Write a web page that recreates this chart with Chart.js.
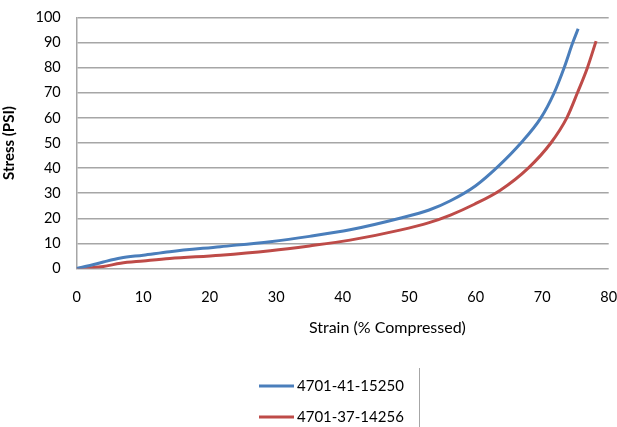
<!DOCTYPE html>
<html>
<head>
<meta charset="utf-8">
<script src="https://cdn.jsdelivr.net/npm/chart.js@4.4.1/dist/chart.umd.min.js"></script>
<style>
  html, body { margin: 0; padding: 0; background: #fff; }
  #wrap { width: 617px; height: 427px; }
</style>
</head>
<body>
<div id="wrap"><canvas id="stressChart"></canvas></div>
<script>
// values
const seriesNames = ['4701-41-15250', '4701-37-14256'];
const strainA = [0, 2, 4, 6.6, 10, 14, 21.6, 29.1, 35, 41.1, 48.6, 53, 56.2, 60, 63.5, 66.8, 69.8, 71.8, 73.3, 74.6, 75.4];
const stressA = [0, 1.2, 2.6, 4.2, 5.3, 6.7, 8.7, 10.7, 12.8, 15.4, 20, 23.3, 27, 33, 41, 50, 60, 70, 80, 90, 95.5];
const strainB = [0, 2, 4, 6.6, 10, 14, 21.6, 29.1, 35, 41.1, 48.6, 53, 56.2, 59.8, 63.7, 67.9, 71.3, 73.7, 75.3, 76.8, 78.1];
const stressB = [0, 0.3, 0.8, 2.1, 3.0, 4.0, 5.3, 7.1, 9.0, 11.3, 15.3, 18.3, 21.3, 25.6, 31.2, 40, 50, 60, 70, 80, 90.6];
const xTicks = [0, 10, 20, 30, 40, 50, 60, 70, 80];
const yTicks = [0, 10, 20, 30, 40, 50, 60, 70, 80, 90, 100];
const colors = ['#4a7ebb', '#be4b48'];

const FONT = 'Lato, "Open Sans", sans-serif';
const gridGrey = '#a6a6a6';

function toPoints(xs, ys) {
    return xs.map((x, i) => ({ x: x, y: ys[i] }));
}

// excel-ish bits: x axis title a bit right of centre, stacked legend with a border line
const extras = {
    id: 'extras',
    afterDraw(chart) {
        const ctx = chart.ctx;
        const area = chart.chartArea;
        ctx.save();
        ctx.fillStyle = '#000';
        ctx.font = '16px ' + FONT;
        ctx.textAlign = 'center';
        ctx.textBaseline = 'middle';
        ctx.fillText('Strain (% Compressed)', area.left + (area.right - area.left) * 0.584, 328);

        ctx.textAlign = 'left';
        ctx.font = '15px ' + FONT;
        chart.data.datasets.forEach((ds, i) => {
            const y = 386 + i * 31;
            ctx.strokeStyle = ds.borderColor;
            ctx.lineWidth = 3;
            ctx.beginPath();
            ctx.moveTo(259, y);
            ctx.lineTo(294, y);
            ctx.stroke();
            ctx.fillText(ds.label, 297, y);
        });

        ctx.strokeStyle = gridGrey;
        ctx.lineWidth = 1;
        ctx.beginPath();
        ctx.moveTo(419.5, 368);
        ctx.lineTo(419.5, 427);
        ctx.stroke();
        ctx.restore();
    }
};

document.addEventListener('DOMContentLoaded', function() {
    const ctx = document.getElementById('stressChart').getContext('2d');
    new Chart(ctx, {
        type: 'line',
        data: {
            datasets: [{
                label: seriesNames[0],
                data: toPoints(strainA, stressA),
                borderColor: colors[0],
                backgroundColor: colors[0],
                borderWidth: 3,
                pointRadius: 0,
                cubicInterpolationMode: 'monotone'
            }, {
                label: seriesNames[1],
                data: toPoints(strainB, stressB),
                borderColor: colors[1],
                backgroundColor: colors[1],
                borderWidth: 3,
                pointRadius: 0,
                cubicInterpolationMode: 'monotone'
            }]
        },
        options: {
            responsive: true,
            maintainAspectRatio: false,
            animation: false,
            layout: { padding: { top: 17.5, right: 8.3, bottom: 0, left: 0 } },
            plugins: {
                legend: { display: false },
                tooltip: { enabled: false }
            },
            scales: {
                x: {
                    type: 'linear',
                    min: 0,
                    max: 80,
                    afterBuildTicks: (scale) => { scale.ticks = xTicks.map(v => ({ value: v })); },
                    afterFit: (scale) => {
                        scale.height = 158.5;
                        scale.paddingLeft = 0;
                        scale.paddingRight = 0;
                    },
                    grid: { display: false, drawTicks: false },
                    border: { display: false },
                    ticks: {
                        padding: 20,
                        color: '#000',
                        font: { family: FONT, size: 14.5 },
                        maxRotation: 0
                    }
                },
                y: {
                    min: 0,
                    max: 100,
                    afterBuildTicks: (scale) => { scale.ticks = yTicks.map(v => ({ value: v })); },
                    afterFit: (scale) => {
                        scale.width = 76.7;
                        scale.paddingTop = 0;
                        scale.paddingBottom = 0;
                    },
                    grid: { color: gridGrey, lineWidth: 1.5, drawTicks: false },
                    border: { display: true, color: gridGrey, width: 1.5 },
                    ticks: {
                        padding: 16,
                        color: '#000',
                        font: { family: FONT, size: 14.5 }
                    },
                    title: {
                        display: true,
                        text: 'Stress (PSI)',
                        color: '#000',
                        font: { family: FONT, size: 15, weight: 'bold' },
                        padding: { top: 0, bottom: 0 }
                    }
                }
            }
        },
        plugins: [extras]
    });
});
</script>
</body>
</html>
